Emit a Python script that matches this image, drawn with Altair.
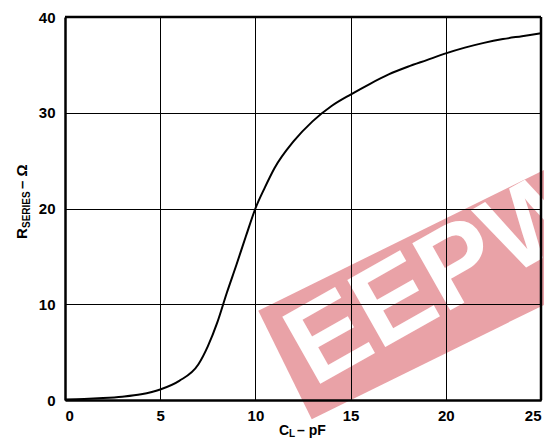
import altair as alt
import pandas as pd

# Curve values
cl_pf = [0, 1, 2, 3, 4, 5, 6, 7, 7.5, 8, 8.5, 9, 9.5, 10, 10.5, 11, 12, 13, 14,
         15, 16, 17, 18, 19, 20, 21, 22, 23, 24, 25]
r_series = [0.05, 0.1, 0.2, 0.35, 0.6, 1.1, 2.0, 3.7, 5.6, 8.1, 11.2, 14.1, 17.1,
            20.0, 22.2, 24.2, 27.0, 29.1, 30.7, 31.9, 33.0, 34.0, 34.8, 35.5,
            36.2, 36.8, 37.3, 37.7, 38.0, 38.3]
x_ticks = [0, 5, 10, 15, 20, 25]
y_ticks = [0, 10, 20, 30, 40]

W, H = 476, 383
FONT = "Liberation Sans"

df = pd.DataFrame({"x": cl_pf, "y": r_series})
one = alt.Chart(pd.DataFrame({"k": [0]}))
xs = alt.Scale(domain=[0, 25], nice=False)
ys = alt.Scale(domain=[0, 40], nice=False)

# watermark band and letters (decoration)
band = one.mark_rule(color="#e9a2a7", strokeWidth=121, strokeCap="butt").encode(
    x=alt.value(220), y=alt.value(348), x2=alt.value(620), y2=alt.value(151)
)
wm_text = one.mark_text(
    text="EEPW", font=FONT, fontWeight="bold", fontSize=112, color="white",
    angle=330.5, align="left", baseline="middle"
).encode(x=alt.value(232), y=alt.value(341))

axis_common = dict(title=None, grid=True, gridColor="black", gridOpacity=1,
                   gridWidth=1, ticks=False, domain=True, domainColor="black",
                   domainWidth=2.5, zindex=1)

curve = alt.Chart(df).mark_line(color="black", strokeWidth=2, interpolate="monotone").encode(
    x=alt.X("x:Q", scale=xs, axis=alt.Axis(values=x_ticks, labelPadding=8, **axis_common)),
    y=alt.Y("y:Q", scale=ys, axis=alt.Axis(values=y_ticks, labelPadding=10, **axis_common)),
)

top_border = one.mark_rule(color="black", strokeWidth=2.5).encode(
    x=alt.value(0), x2=alt.value(W), y=alt.value(0)
)
right_border = one.mark_rule(color="black", strokeWidth=2.5).encode(
    x=alt.value(W), y=alt.value(0), y2=alt.value(H)
)

def txt(s, x, y, size, angle=0):
    return one.mark_text(text=s, font=FONT, fontWeight="bold", fontSize=size,
                         color="black", align="left", baseline="alphabetic",
                         angle=angle).encode(x=alt.value(x), y=alt.value(y))

xt = txt("C", 214, 418, 14) + txt("L", 224, 420, 10) + txt(" – pF", 232, 418, 14)
yt = (txt("R", -38, 222, 15, angle=270) + txt("SERIES", -35, 211, 10, angle=270)
      + txt(" – Ω", -38, 172, 15, angle=270))

chart = alt.layer(band, wm_text, curve, top_border, right_border, xt, yt).properties(
    width=W, height=H,
    autosize=alt.AutoSizeParams(type="none"),
    padding={"left": 57, "top": 9, "right": 3, "bottom": 38},
).configure_axis(
    labelFont=FONT, labelFontWeight="bold", labelFontSize=15, labelColor="black"
).configure_view(stroke=None)

chart.save("out.html", embed_options={"renderer": "svg", "actions": False})
